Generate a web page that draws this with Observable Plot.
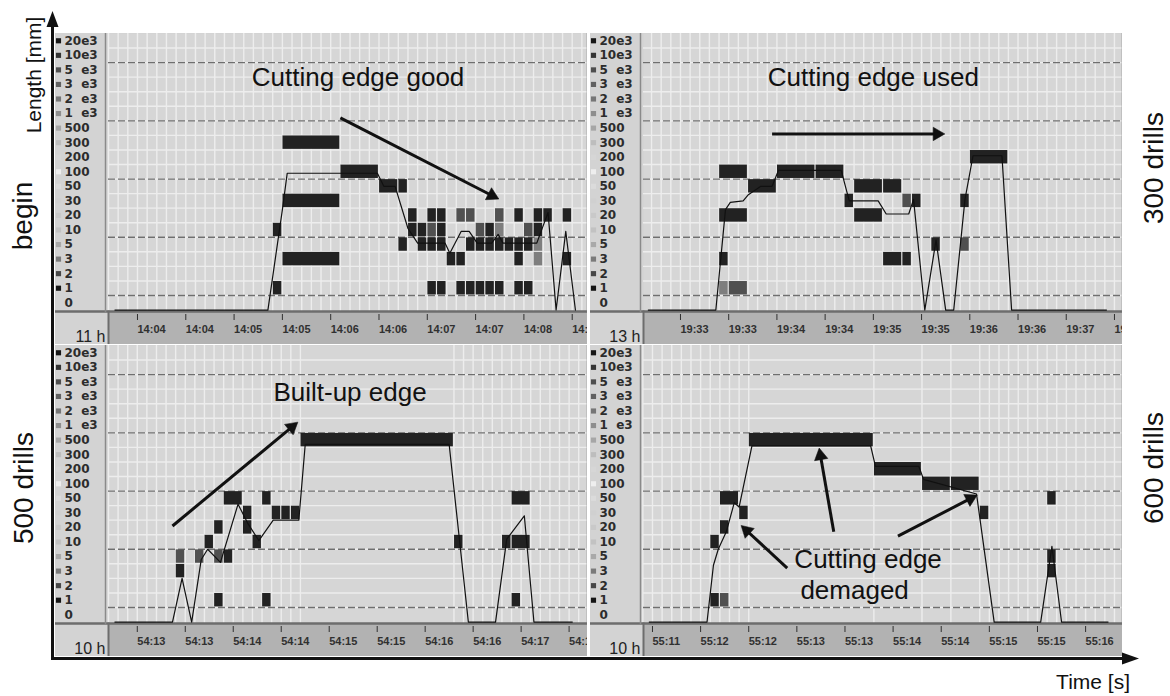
<!DOCTYPE html>
<html>
<head>
<meta charset="utf-8">
<script src="https://cdn.jsdelivr.net/npm/d3@7"></script>
<script src="https://cdn.jsdelivr.net/npm/@observablehq/plot@0.6"></script>
<style>
  body { margin: 0; background: #fff; }
  #page { position: relative; width: 1170px; height: 696px; overflow: hidden; font-family: "Liberation Sans", Arial, sans-serif; }
  #frame { position: absolute; left: 0; top: 0; }
  .panel { position: absolute; }
</style>
</head>
<body>
<div id="page">
  <svg id="frame" width="1170" height="696">
    <line x1="52.5" y1="660" x2="52.5" y2="24" stroke="#111" stroke-width="3"/>
    <polygon points="52.5,11 46.5,27 58.5,27" fill="#111"/>
    <line x1="51" y1="658.5" x2="1124" y2="658.5" stroke="#111" stroke-width="3"/>
    <polygon points="1139,658.5 1122,652.5 1122,664.5" fill="#111"/>
    <text transform="translate(33,75) rotate(-90)" text-anchor="middle" dominant-baseline="central" font-size="21" fill="#111">Length [mm]</text>
    <text transform="translate(22,216) rotate(-90)" text-anchor="middle" dominant-baseline="central" font-size="28" fill="#111">begin</text>
    <text transform="translate(23,488) rotate(-90)" text-anchor="middle" dominant-baseline="central" font-size="28" fill="#111">500 drills</text>
    <text transform="translate(1153,168) rotate(-90)" text-anchor="middle" dominant-baseline="central" font-size="28" fill="#111">300 drills</text>
    <text transform="translate(1153,468) rotate(-90)" text-anchor="middle" dominant-baseline="central" font-size="28" fill="#111">600 drills</text>
    <text x="1130" y="689" text-anchor="end" font-size="21" fill="#111">Time [s]</text>
  </svg>
</div>
<script>
// Length classes on the vertical axis (bottom to top)
const levels = ["0", "1", "2", "3", "5", "10", "20", "30", "50", "100", "200", "300", "500", "1e3", "2e3", "3e3", "5e3", "10e3", "20e3"];
const levelText = ["0", "1", "2", "3", "5", "10", "20", "30", "50", "100", "200", "300", "500",
  "1\u00a0\u00a0e3", "2\u00a0\u00a0e3", "3\u00a0\u00a0e3", "5\u00a0\u00a0e3", "10e3", "20e3"];
// legend swatch shade of each class
const swatchColors = ["none", "#141414", "#474747", "#7a7a7a", "#a9a9a9", "#c2c2c2", "#c9c9c9", "#d0d0d0", "#dbdbdb",
  "#eeeeee", "#d6d6d6", "#bdbdbd", "#a6a6a6", "#8e8e8e", "#767676", "#616161", "#4e4e4e", "#333333", "#161616"];
// cell shade by hit density: 1 dense, 2 medium, 3 sparse
const densityColors = {1: "#222222", 2: "#505050", 3: "#7e7e7e"};

// tick times in seconds after the first labelled tick
const tickTimes = [0, 30, 60, 90, 120, 150, 180, 210, 240, 270];

// ---- begin (11 h) ----
const beginTicks = ["14:04", "14:04", "14:05", "14:05", "14:06", "14:06", "14:07", "14:07", "14:08", "14:08"];
// [start s, end s, length class, density]
const beginCells = [
  [84, 90, "1", 1], [84, 90, "10", 1],
  [90, 126, "300", 1], [90, 126, "30", 1], [90, 126, "3", 1],
  [126, 150, "100", 1],
  [150, 162, "50", 1], [162, 168, "50", 1], [162, 168, "5", 1],
  [168, 174, "20", 1], [168, 174, "10", 1],
  [174, 180, "10", 1], [174, 180, "5", 1],
  [180, 186, "20", 1], [180, 186, "10", 2], [180, 186, "5", 1], [180, 186, "1", 1],
  [186, 192, "20", 1], [186, 192, "10", 1], [186, 192, "5", 1], [186, 192, "1", 1],
  [192, 198, "3", 1],
  [198, 204, "20", 2], [198, 204, "3", 1], [198, 204, "1", 1],
  [204, 210, "20", 2], [204, 210, "5", 1], [204, 210, "1", 1],
  [210, 216, "10", 2], [210, 216, "5", 1], [210, 216, "1", 1],
  [216, 222, "10", 1], [216, 222, "5", 1], [216, 222, "1", 1],
  [222, 228, "20", 2], [222, 228, "10", 3], [222, 228, "5", 1], [222, 228, "1", 1],
  [228, 234, "5", 1],
  [234, 240, "20", 1], [234, 240, "5", 1], [234, 240, "3", 1], [234, 240, "1", 1],
  [240, 246, "10", 2], [240, 246, "5", 1], [240, 246, "1", 1],
  [246, 252, "20", 1], [246, 252, "10", 1], [246, 252, "5", 3], [246, 252, "3", 3],
  [252, 258, "20", 1],
  [264, 270, "20", 1], [264, 270, "3", 1]
];
// mean length trace [s, class position]; -0.5 = no cut
const beginTrace = [[-14, -0.5], [81, -0.5], [90, 6.4], [93, 8.9], [149, 8.9], [153, 8.0], [160, 8.0], [168, 5.1],
  [174, 4.1], [191, 4.1], [194, 3.4], [201, 4.9], [206, 4.9], [211, 4.1], [220, 4.1], [224, 4.7], [227, 4.1],
  [248, 4.1], [255, 6.2], [260, -0.5], [266, 4.9], [272, -0.5]];

// ---- 300 drills (13 h) ----
const d300Ticks = ["19:33", "19:33", "19:34", "19:34", "19:35", "19:35", "19:36", "19:36", "19:37", "19:37"];
const d300Cells = [
  [24, 42, "100", 1], [24, 42, "20", 1], [24, 30, "3", 1], [24, 30, "1", 3], [30, 42, "1", 2],
  [42, 60, "50", 1],
  [60, 84, "100", 1], [84, 102, "100", 1],
  [102, 108, "30", 1],
  [108, 126, "50", 1], [126, 138, "50", 1],
  [108, 126, "20", 1],
  [126, 138, "3", 1], [138, 144, "3", 1],
  [138, 144, "30", 2], [144, 150, "30", 1],
  [156, 162, "5", 1],
  [174, 180, "30", 1], [174, 180, "5", 2],
  [180, 204, "200", 1]
];
const d300Trace = [[-20, -0.5], [22, -0.5], [28, 6.4], [31, 6.9], [39, 7.0], [42, 7.4], [50, 8.0], [57, 8.0],
  [61, 9.1], [100, 9.1], [105, 7.0], [123, 7.0], [128, 6.1], [142, 6.1], [145, 7.1], [152, -0.5], [159, 4.3],
  [165, -0.5], [170, -0.5], [177, 7.1], [182, 10.1], [200, 10.1], [206, -0.5], [265, -0.5]];

// ---- 500 drills (10 h) ----
const d500Ticks = ["54:13", "54:13", "54:14", "54:14", "54:15", "54:15", "54:16", "54:16", "54:17", "54:17"];
const d500Cells = [
  [24, 30, "5", 2], [24, 30, "3", 1],
  [36, 42, "5", 2],
  [42, 48, "10", 1],
  [48, 54, "20", 1], [48, 54, "5", 2], [48, 54, "1", 1],
  [54, 60, "5", 1],
  [54, 66, "50", 1],
  [66, 72, "30", 1], [66, 72, "20", 1],
  [72, 78, "10", 1],
  [78, 84, "50", 1], [78, 84, "1", 1],
  [84, 90, "30", 1], [90, 96, "30", 1], [96, 102, "30", 1],
  [102, 198, "500", 1],
  [198, 204, "10", 1],
  [228, 234, "10", 1],
  [234, 246, "10", 1], [234, 246, "50", 1], [234, 240, "1", 1]
];
const d500Trace = [[-14, -0.5], [22, -0.5], [28, 2.5], [34, -0.5], [40, 3.8], [44, 4.5], [52, 3.6], [63, 7.6],
  [69, 6.3], [76, 5.1], [85, 6.5], [101, 6.5], [105, 11.7], [195, 11.7], [207, -0.5], [224, -0.5], [231, 5.2],
  [242, 6.8], [248, -0.5], [272, -0.5]];

// ---- 600 drills (10 h) ----
const d600Ticks = ["55:11", "55:12", "55:12", "55:13", "55:13", "55:14", "55:14", "55:15", "55:15", "55:16"];
const d600Cells = [
  [36, 42, "1", 1], [42, 48, "1", 2],
  [36, 42, "10", 1],
  [42, 48, "20", 1],
  [42, 54, "50", 1],
  [54, 60, "30", 1],
  [60, 138, "500", 1],
  [138, 168, "200", 1],
  [168, 186, "100", 1], [186, 204, "100", 1],
  [204, 210, "30", 1],
  [246, 252, "50", 1],
  [246, 252, "5", 1], [246, 252, "3", 1]
];
const d600Trace = [[-2, -0.5], [34, -0.5], [38, 3.4], [41, 4.5], [46, 5.7], [51, 7.7], [54, 7.4], [62, 11.6],
  [136, 11.6], [139, 10.2], [166, 10.2], [169, 9.3], [202, 8.3], [213, -0.5], [242, -0.5], [249, 4.7],
  [255, -0.5], [284, -0.5]];

const levelIndex = new Map(levels.map((l, i) => [l, i]));
const font = "'Liberation Sans', Arial, sans-serif";
const W = 532, H = 311, ML = 53, MB = 33;
const yDomain = [-0.6, 18.5];

function panel({left, top, domain, cells, trace, grid, ticks, hour, notes = [], arrows = []}) {
  const tickLabel = new Map(tickTimes.map((t, i) => [t, ticks[i]]));
  // pixels per data unit, used to orient the arrow heads on screen
  const kx = (W - ML) / (domain[1] - domain[0]);
  const ky = (H - MB) / (yDomain[1] - yDomain[0]);
  const heads = arrows.map(a => {
    const vx = (a.t2 - a.t1) * kx, vy = -(a.l2 - a.l1) * ky;
    const len = Math.hypot(vx, vy), ux = vx / len, uy = vy / len;
    const back = 7;
    return {t: a.t2 - ux * back / kx, l: a.l2 + uy * back / ky, angle: Math.atan2(ux, -uy) * 180 / Math.PI,
      t1: a.t1, l1: a.l1};
  });
  const chart = Plot.plot({
    width: W, height: H,
    marginLeft: ML, marginRight: 0, marginTop: 0, marginBottom: MB,
    x: {domain},
    y: {domain: yDomain, axis: null},
    style: {background: "#d3d3d3", fontFamily: font},
    marks: [
      // time strip and plotting field
      Plot.frame({fill: "#b2b2b2", stroke: null, insetTop: H - MB, insetBottom: -MB}),
      Plot.frame({fill: "#d6d6d6", stroke: null}),
      Plot.ruleY(d3.range(0.5, 18, 1), {stroke: "#ededed", strokeWidth: 1.4}),
      Plot.ruleX(grid, {stroke: "#ededed", strokeWidth: 1.4}),
      Plot.ruleY([0.5, 4.5, 8.5, 12.5, 16.5], {stroke: "#6f6f6f", strokeWidth: 1.3, strokeDasharray: "7,3"}),
      // borders
      Plot.frame({anchor: "bottom", insetLeft: -ML, stroke: "#6d6d6d", strokeWidth: 2.5}),
      Plot.frame({anchor: "left", insetTop: H - MB, insetBottom: -MB, stroke: "#6d6d6d", strokeWidth: 2}),
      Plot.frame({anchor: "left", dx: -3, stroke: "#8a8a8a", strokeWidth: 1.5}),
      Plot.frame({anchor: "right", stroke: "#808080", strokeWidth: 1.5}),
      // class legend
      Plot.dot(levels, {y: (d, i) => i, frameAnchor: "left", dx: -50, symbol: "square", r: 2.9,
        fill: (d, i) => swatchColors[i]}),
      Plot.text(levels, {y: (d, i) => i, text: (d, i) => levelText[i], frameAnchor: "left", dx: -44,
        textAnchor: "start", fontFamily: "'DejaVu Sans', sans-serif", fontWeight: "bold", fontSize: 12, fill: "#2c2c2c"}),
      // recorded cells and trace
      Plot.rect(cells, {x1: d => d[0], x2: d => d[1],
        y1: d => levelIndex.get(d[2]) - 0.46, y2: d => levelIndex.get(d[2]) + 0.46,
        fill: d => densityColors[d[3]], insetLeft: 0.6, insetRight: 0.6}),
      Plot.line(trace, {x: d => d[0], y: d => d[1], stroke: "#111", strokeWidth: 1.2}),
      // time axis
      Plot.axisX(tickTimes, {anchor: "bottom", tickSize: 6, tickPadding: 5, dy: 3, textAnchor: "start", dx: 0,
        tickFormat: d => tickLabel.get(d), fontSize: 11, fontWeight: "bold", fontFamily: font, color: "#303030", label: null}),
      Plot.text([hour], {frameAnchor: "bottom-left", dx: -3, dy: 30, textAnchor: "end", lineAnchor: "bottom",
        fontSize: 16, fill: "#222"}),
      // annotations
      Plot.text(notes, {x: "t", y: "level", text: "text", lineAnchor: "bottom", fontSize: 26, fill: "#111"}),
      Plot.link(heads, {x1: "t1", y1: "l1", x2: "t", y2: "l", stroke: "#111", strokeWidth: 3}),
      Plot.dot(heads, {x: "t", y: "l", rotate: "angle", symbol: "triangle", r: 5, fill: "#111", stroke: "#111", strokeWidth: 0.5})
    ]
  });
  chart.classList.add("panel");
  chart.style.left = left + "px";
  chart.style.top = top + "px";
  document.getElementById("page").appendChild(chart);
}

panel({left: 55, top: 33, domain: [-18, 279.5], cells: beginCells, trace: beginTrace,
  grid: d3.range(-18, 280, 6), ticks: beginTicks, hour: "11 h",
  notes: [{t: 137, level: 14.9, text: "Cutting edge good"}],
  arrows: [{t1: 126, l1: 12.7, t2: 224, l2: 7.15}]});

panel({left: 590, top: 33, domain: [-23, 275], cells: d300Cells, trace: d300Trace,
  grid: d3.range(-18, 276, 6), ticks: d300Ticks, hour: "13 h",
  notes: [{t: 120, level: 14.9, text: "Cutting edge used"}],
  arrows: [{t1: 57, l1: 11.6, t2: 164, l2: 11.6}]});

panel({left: 55, top: 345, domain: [-18, 281.5], cells: d500Cells, trace: d500Trace,
  grid: d3.range(-18, 103, 6).concat(d3.range(198, 282, 6)), ticks: d500Ticks, hour: "10 h",
  notes: [{t: 133, level: 14.7, text: "Built-up edge"}],
  arrows: [{t1: 22, l1: 6.1, t2: 100, l2: 13.2}]});

panel({left: 590, top: 345, domain: [-5.6, 293], cells: d600Cells, trace: d600Trace,
  grid: d3.range(-6, 61, 6).concat([138, 168, 186]).concat(d3.range(204, 294, 6)), ticks: d600Ticks, hour: "10 h",
  notes: [{t: 134.4, level: 3.2, text: "Cutting edge"}, {t: 126, level: 1.1, text: "demaged"}],
  arrows: [
    {t1: 113, l1: 5.7, t2: 104, l2: 11.4},
    {t1: 153, l1: 5.4, t2: 202, l2: 8.2},
    {t1: 84, l1: 3.2, t2: 55.6, l2: 6.1}
  ]});
</script>
</body>
</html>
